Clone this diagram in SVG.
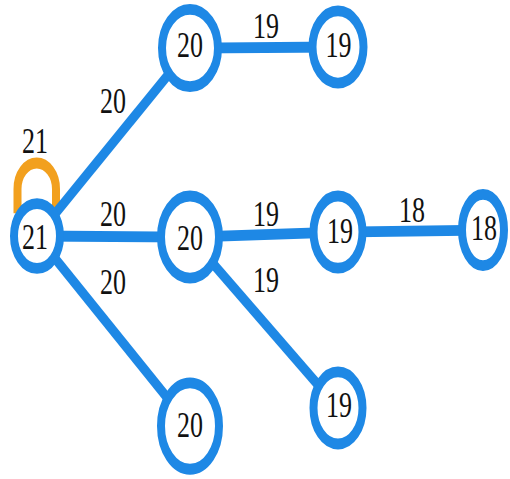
<svg xmlns="http://www.w3.org/2000/svg" width="510" height="479" viewBox="0 0 510 479">
  <style>
    .edge { stroke: #1e88e5; stroke-width: 8; fill: none; }
    .loop { stroke: #f2a01e; stroke-width: 8; fill: none; }
    .node ellipse { fill: #ffffff; stroke: #1e88e5; stroke-width: 8; }
    text { font-family: "Liberation Serif", "Times New Roman", serif; font-size: 26px; fill: #111111; text-anchor: middle; }
  </style>
  <rect width="510" height="479" fill="#ffffff"/>
  <!-- whole drawing is laid out in a compressed frame and stretched vertically -->
  <g transform="scale(1,1.35)">
    <g id="connectors">
      <path class="loop" d="M17.5 158 L17.5 140 A19.25 19.25 0 0 1 56 140 L56 158"/>
      <line class="edge" x1="37" y1="174.8" x2="190" y2="35.6"/>
      <line class="edge" x1="37" y1="174.8" x2="190" y2="175.6"/>
      <line class="edge" x1="37" y1="174.8" x2="190" y2="315.6"/>
      <line class="edge" x1="190" y1="35.6" x2="338" y2="34.8"/>
      <line class="edge" x1="190" y1="175.6" x2="338" y2="171.9"/>
      <line class="edge" x1="338" y1="171.9" x2="483" y2="170.4"/>
      <line class="edge" x1="190" y1="175.6" x2="338" y2="302.2"/>
    </g>
    <g id="edge-labels">
      <text x="35" y="113">21</text>
      <text x="113" y="83.8">20</text>
      <text x="113" y="167.5">20</text>
      <text x="113" y="217.5">20</text>
      <text x="266" y="27.9">19</text>
      <text x="266" y="167.1">19</text>
      <text x="266" y="216">19</text>
      <text x="412" y="164.2">18</text>
    </g>
    <g id="n21" class="node">
      <ellipse cx="37" cy="174.8" rx="23" ry="24"/>
      <text x="35" y="184.5">21</text>
    </g>
    <g id="n20a" class="node">
      <ellipse cx="190" cy="35.6" rx="28" ry="28.6"/>
      <text x="190" y="42.3">20</text>
    </g>
    <g id="n19a" class="node">
      <ellipse cx="338" cy="34.8" rx="25.5" ry="26.7"/>
      <text x="338.5" y="41.9">19</text>
    </g>
    <g id="n20b" class="node">
      <ellipse cx="190" cy="175.6" rx="29" ry="30.4"/>
      <text x="190" y="185.3">20</text>
    </g>
    <g id="n19b" class="node">
      <ellipse cx="338" cy="171.9" rx="24.5" ry="26.7"/>
      <text x="340" y="180.1">19</text>
    </g>
    <g id="n18" class="node">
      <ellipse cx="483" cy="170.4" rx="21" ry="26.4"/>
      <text x="484" y="177.9">18</text>
    </g>
    <g id="n20c" class="node">
      <ellipse cx="190" cy="315.6" rx="29" ry="32"/>
      <text x="190" y="323.4">20</text>
    </g>
    <g id="n19c" class="node">
      <ellipse cx="338" cy="302.2" rx="24.5" ry="26.7"/>
      <text x="339" y="309">19</text>
    </g>
  </g>
</svg>
